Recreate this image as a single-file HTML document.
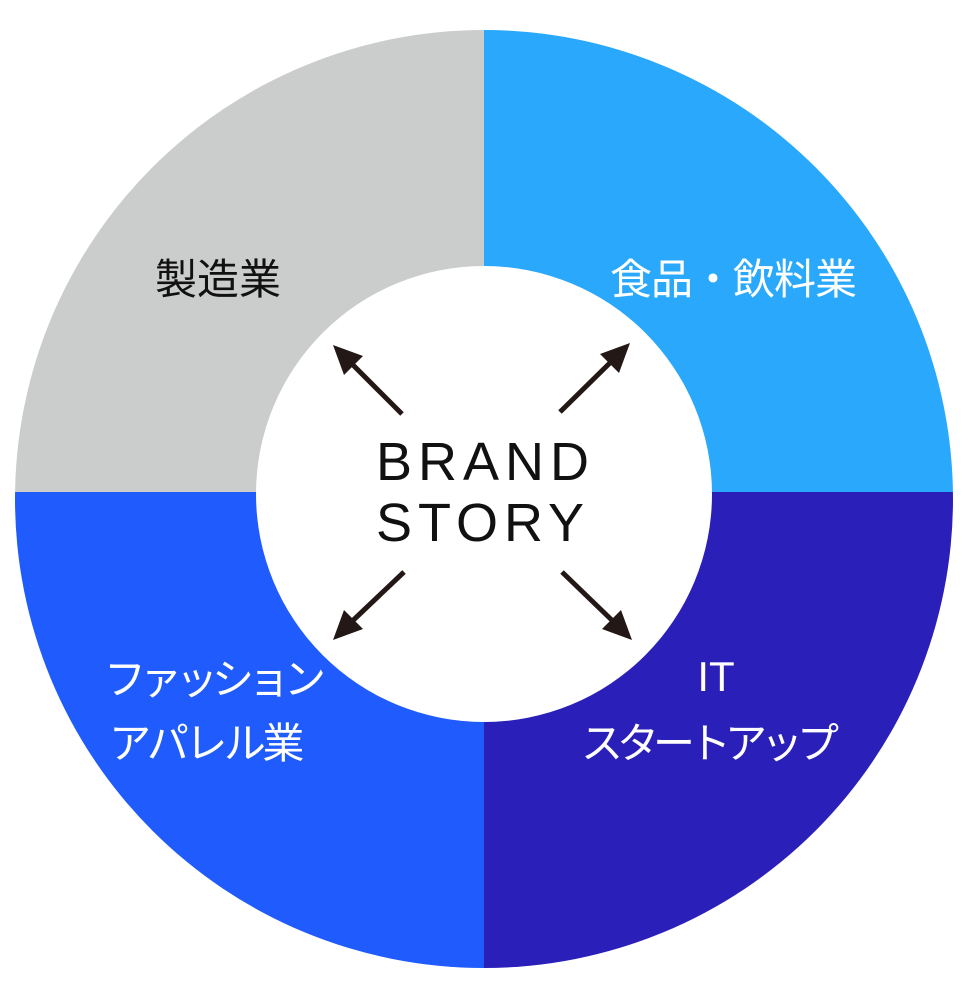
<!DOCTYPE html>
<html><head><meta charset="utf-8"><style>
html,body{margin:0;padding:0;background:#fff;}
svg{display:block}
</style></head><body>
<svg width="968" height="989" viewBox="0 0 968 989" xmlns="http://www.w3.org/2000/svg">
<defs><clipPath id="c"><circle cx="484" cy="499" r="469"/></clipPath></defs>
<g clip-path="url(#c)">
<rect x="0" y="0" width="484" height="492" fill="#cbcccc"/>
<rect x="484" y="0" width="484" height="492" fill="#29a8fc"/>
<rect x="0" y="492" width="484" height="497" fill="#1f5bfd"/>
<rect x="484" y="492" width="484" height="497" fill="#2a20b9"/>
</g>
<circle cx="484" cy="494" r="228" fill="#fff"/>
<g stroke="#231815" stroke-width="5" fill="#231815">
<line x1="402" y1="414" x2="345" y2="357"/>
<polygon points="333,345 363,356 344,375" stroke="none"/>
<line x1="560" y1="412" x2="618" y2="355"/>
<polygon points="630,343 619,373 600,354" stroke="none"/>
<line x1="404" y1="572" x2="345" y2="628"/>
<polygon points="333,640 344,610 363,629" stroke="none"/>
<line x1="562" y1="572" x2="620" y2="628"/>
<polygon points="632,640 602,629 621,610" stroke="none"/>
</g>
<g font-family="Liberation Sans, DejaVu Sans, sans-serif" fill="#111" font-size="54" letter-spacing="6">
<text x="376" y="480">BRAND</text>
<text x="376" y="541">STORY</text>
</g>
<g font-family="'Liberation Sans','Noto Sans CJK JP',sans-serif" font-size="42" text-anchor="middle">
<text x="218" y="294" fill="#111">製造業</text>
<text x="733" y="294" fill="#fff" letter-spacing="-1">食品・飲料業</text>
<text x="212" y="694" fill="#fff" letter-spacing="-6">ファッション</text>
<text x="205" y="758" fill="#fff" letter-spacing="-3.5">アパレル業</text>
<text x="716" y="691" fill="#fff">IT</text>
<text x="707" y="758" fill="#fff" letter-spacing="-6">スタートアップ</text>
</g>
</svg>
</body></html>
